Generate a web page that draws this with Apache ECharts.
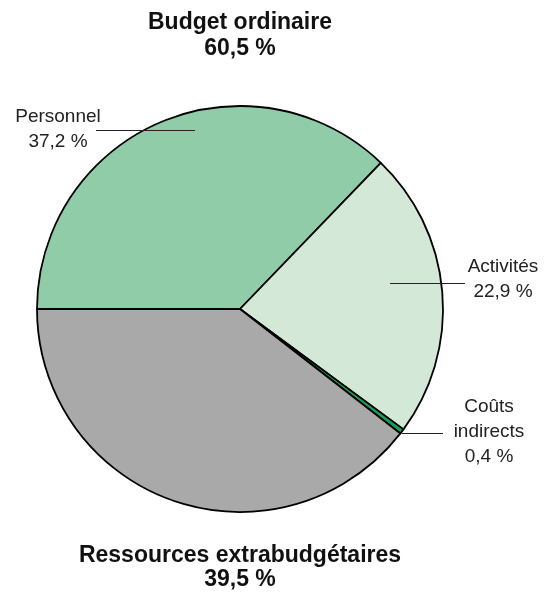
<!DOCTYPE html>
<html>
<head>
<meta charset="utf-8">
<script src="https://cdn.jsdelivr.net/npm/echarts@6/dist/echarts.min.js"></script>
<style>
  html, body { margin: 0; padding: 0; background: #fff; }
  #main { width: 548px; height: 596px; }
</style>
</head>
<body>
<div id="main"></div>
<script>
// data
var categories = ["Personnel", "Activités", "Coûts indirects", "Ressources extrabudgétaires"];
var labelTexts = ["Personnel\n37,2 %", "Activités\n22,9 %", "Coûts\nindirects\n0,4 %", ""];
var values = [37.2, 22.9, 0.4, 39.5];
var colors = ["#90cca8", "#d3e8d6", "#17a05c", "#a9a9a9"];

// label placement (text centre) and leader line ends
var labelPos = [
  { x: 58, y: 129, line: [[195, 130.5], [96, 130.5]] },
  { x: 503, y: 279, line: [[390, 283.5], [465, 283.5]] },
  { x: 489, y: 432, line: [[402, 433.5], [443, 433.5]] }
];

var chart = echarts.init(document.getElementById("main"));

var titleStyle = {
  fontFamily: "Liberation Sans",
  fontSize: 23,
  fontWeight: "bold",
  color: "#111",
  lineHeight: 26
};

var pieBase = {
  type: "pie",
  center: [240, 309],
  radius: 203,
  startAngle: 180,
  clockwise: true,
  avoidLabelOverlap: false
};

var option = {
  animation: false,
  title: [
    {
      text: "Budget ordinaire\n60,5 %",
      left: 240, top: 10, padding: 0,
      textAlign: "center",
      textStyle: titleStyle
    },
    {
      text: "Ressources extrabudgétaires\n39,5 %",
      left: 240, top: 544, padding: 0,
      textAlign: "center",
      textStyle: Object.assign({}, titleStyle, { lineHeight: 24 })
    }
  ],
  series: [
    // the slices
    Object.assign({}, pieBase, {
      z: 2,
      silent: true,
      itemStyle: { borderColor: "#000", borderWidth: 1.8 },
      label: { show: false },
      labelLine: { show: false },
      data: values.map(function (v, i) {
        return { name: categories[i], value: v, itemStyle: { color: colors[i] } };
      })
    }),
    // same slices, transparent, only to carry labels + leader lines above the pie
    Object.assign({}, pieBase, {
      z: 5,
      silent: true,
      itemStyle: { color: "rgba(0,0,0,0)", borderWidth: 0 },
      label: {
        show: true,
        position: "outside",
        fontFamily: "Liberation Sans",
        fontSize: 19,
        lineHeight: 25,
        color: "#222",
        align: "center",
        formatter: function (p) { return labelTexts[p.dataIndex]; }
      },
      labelLine: { show: true, showAbove: true, lineStyle: { color: "#222", width: 1 } },
      labelLayout: function (p) {
        var lp = labelPos[p.dataIndex];
        if (!lp) return {};
        return {
          x: lp.x,
          y: lp.y,
          align: "center",
          verticalAlign: "middle",
          labelLinePoints: [lp.line[0], lp.line[1], lp.line[1]]
        };
      },
      data: values.map(function (v, i) {
        var d = { name: categories[i], value: v };
        if (i === 3) {
          d.label = { show: false };
          d.labelLine = { show: false };
        }
        return d;
      })
    })
  ]
};

chart.setOption(option);
</script>
</body>
</html>
